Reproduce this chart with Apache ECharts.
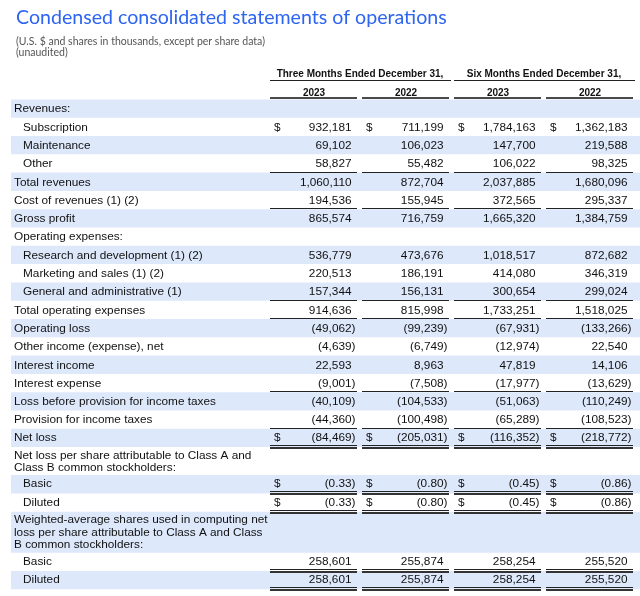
<!DOCTYPE html>
<html>
<head>
<meta charset="utf-8">
<script src="https://cdn.jsdelivr.net/npm/echarts@6/dist/echarts.min.js"></script>
<style>
  html, body { margin: 0; padding: 0; background: #ffffff; }
  #chart { width: 640px; height: 596px; }
</style>
</head>
<body>
<div id="chart"></div>
<script>
// ---------------- DATA ----------------
const titleText = 'Condensed consolidated statements of operations';
const subtitleText = '(U.S. $ and shares in thousands, except per share data)\n(unaudited)';
const periodGroups = ['Three Months Ended December 31,', 'Six Months Ended December 31,'];
const yearLabels = ['2023', '2022', '2023', '2022'];

const rowLabels = [
  'Revenues:',
  'Subscription',
  'Maintenance',
  'Other',
  'Total revenues',
  'Cost of revenues (1) (2)',
  'Gross profit',
  'Operating expenses:',
  'Research and development (1) (2)',
  'Marketing and sales (1) (2)',
  'General and administrative (1)',
  'Total operating expenses',
  'Operating loss',
  'Other income (expense), net',
  'Interest income',
  'Interest expense',
  'Loss before provision for income taxes',
  'Provision for income taxes',
  'Net loss',
  'Net loss per share attributable to Class A and\nClass B common stockholders:',
  'Basic',
  'Diluted',
  'Weighted-average shares used in computing net\nloss per share attributable to Class A and Class\nB common stockholders:',
  'Basic',
  'Diluted'
];

const threeMonths2023 = [null, 932181, 69102, 58827, 1060110, 194536, 865574, null, 536779, 220513, 157344, 914636, -49062, -4639, 22593, -9001, -40109, -44360, -84469, null, -0.33, -0.33, null, 258601, 258601];
const threeMonths2022 = [null, 711199, 106023, 55482, 872704, 155945, 716759, null, 473676, 186191, 156131, 815998, -99239, -6749, 8963, -7508, -104533, -100498, -205031, null, -0.80, -0.80, null, 255874, 255874];
const sixMonths2023   = [null, 1784163, 147700, 106022, 2037885, 372565, 1665320, null, 1018517, 414080, 300654, 1733251, -67931, -12974, 47819, -17977, -51063, -65289, -116352, null, -0.45, -0.45, null, 258254, 258254];
const sixMonths2022   = [null, 1362183, 219588, 98325, 1680096, 295337, 1384759, null, 872682, 346319, 299024, 1518025, -133266, 22540, 14106, -13629, -110249, -108523, -218772, null, -0.86, -0.86, null, 255520, 255520];

// ---------------- LAYOUT / STYLE ----------------
const columns = [threeMonths2023, threeMonths2022, sixMonths2023, sixMonths2022];
const indentedRows = new Set([1, 2, 3, 8, 9, 10, 20, 21, 23, 24]);
const singleRuleRows = new Set([3, 5, 10, 11, 15, 17]);
const doubleRuleRows = new Set([18, 20, 21, 23, 24]);
const dollarRows = new Set([1, 18, 20, 21]);
const perSharePrecision = new Set([20, 21]);

const FONT = '"Liberation Sans", Arial, sans-serif';
const BODY_SIZE = 11.8;
const INK = '#111111';
const SHADE = '#dde8fb';
const ROW_PX = 18.3;

function rowUnits(label) {
  const n = label.split('\n').length;
  return n === 1 ? 1 : (13 * n + 2) / ROW_PX;
}
let acc = 0;
const rowExtents = rowLabels.map((lab, i) => {
  const y0 = acc; acc += rowUnits(lab);
  return [0, y0, acc, i];
});
const totalUnits = acc;

function fmt(v, i) {
  if (v === null || v === undefined) return '';
  const a = Math.abs(v);
  const s = perSharePrecision.has(i)
    ? a.toFixed(2)
    : a.toLocaleString('en-US', { maximumFractionDigits: 0 });
  return v < 0 ? '(' + s + ')' : s;
}

function renderRow(params, api) {
  const i = api.value(3);
  const top = api.coord([0, api.value(1)])[1];
  const bottom = api.coord([0, api.value(2)])[1];
  const band = api.size([1, 0])[0];
  const cs = params.coordSys;
  const children = [];
  if (i % 2 === 0) {
    children.push({
      type: 'rect', z2: 0,
      shape: { x: 11, y: top, width: cs.x + cs.width + 4 - 11, height: bottom - top },
      style: { fill: SHADE }
    });
  }
  const midY = (top + bottom) / 2 + (doubleRuleRows.has(i) ? -0.3 : 0.5);
  children.push({
    type: 'text', z2: 10,
    style: {
      text: rowLabels[i],
      x: indentedRows.has(i) ? 23 : 14,
      y: midY,
      fill: INK,
      fontFamily: FONT,
      fontSize: BODY_SIZE,
      lineHeight: 12.5,
      align: 'left',
      verticalAlign: 'middle'
    }
  });
  for (let c = 0; c < columns.length; c++) {
    const cx = api.coord([c, api.value(1)])[0];
    const left = cx - band / 2 + 2;
    const right = cx + band / 2 - 3;
    const v = columns[c][i];
    if (v !== null && v !== undefined) {
      children.push({
        type: 'text', z2: 10,
        style: {
          text: fmt(v, i),
          x: v < 0 ? right - 1.5 : right - 5.5,
          y: midY,
          fill: INK, fontFamily: FONT, fontSize: BODY_SIZE,
          align: 'right', verticalAlign: 'middle'
        }
      });
      if (dollarRows.has(i)) {
        children.push({
          type: 'text', z2: 10,
          style: {
            text: '$', x: left + 4, y: midY,
            fill: INK, fontFamily: FONT, fontSize: BODY_SIZE,
            align: 'left', verticalAlign: 'middle'
          }
        });
      }
    }
    if (singleRuleRows.has(i)) {
      const yy = Math.round(bottom) - 0.5;
      children.push({ type: 'line', z2: 20, shape: { x1: left, y1: yy, x2: right, y2: yy }, style: { stroke: '#222', lineWidth: 1 } });
    }
    if (doubleRuleRows.has(i)) {
      const y1 = Math.round(bottom) - 1.5;
      const y2 = Math.round(bottom) + 1;
      children.push({ type: 'line', z2: 20, shape: { x1: left, y1: y1, x2: right, y2: y1 }, style: { stroke: '#222', lineWidth: 1 } });
      children.push({ type: 'line', z2: 20, shape: { x1: left, y1: y2, x2: right, y2: y2 }, style: { stroke: '#333', lineWidth: 2 } });
    }
  }
  return { type: 'group', children: children };
}

function renderHeader(params, api) {
  const c = api.value(0);
  const band = api.size([1, 0])[0];
  const cx = api.coord([c, 0])[0];
  const gridTop = params.coordSys.y;
  const left = cx - band / 2 + 2;
  const right = cx + band / 2 - 3;
  const children = [
    { type: 'line', shape: { x1: left, y1: gridTop - 1.5, x2: right, y2: gridTop - 1.5 }, style: { stroke: '#4a4a4a', lineWidth: 2 } }
  ];
  if (c % 2 === 0) {
    const cx2 = api.coord([c + 1, 0])[0];
    const right2 = cx2 + band / 2 - 1;
    const gy = Math.round(gridTop - 19) + 0.5;
    children.push({ type: 'line', shape: { x1: left, y1: gy, x2: right2, y2: gy }, style: { stroke: '#222', lineWidth: 1 } });
    children.push({
      type: 'text',
      style: {
        text: periodGroups[c / 2], x: (cx + cx2) / 2, y: gridTop - 25,
        fill: INK, fontFamily: FONT, fontSize: 10, fontWeight: 'bold',
        align: 'center', verticalAlign: 'middle'
      }
    });
  }
  return { type: 'group', children: children };
}

const chart = echarts.init(document.getElementById('chart'), null, { renderer: 'canvas' });
chart.setOption({
  backgroundColor: '#ffffff',
  animation: false,
  title: {
    text: titleText,
    subtext: subtitleText,
    left: 11,
    top: 3,
    itemGap: 8,
    textStyle: { fontFamily: 'Lato', fontSize: 19.6, fontWeight: 'normal', color: '#2d64f0' },
    subtextStyle: { fontFamily: 'Lato', fontSize: 10.5, color: '#555555', lineHeight: 11 }
  },
  grid: { left: 268, right: 4, top: 99.4, bottom: 596 - 99.4 - totalUnits * ROW_PX },
  xAxis: {
    type: 'category',
    data: yearLabels,
    position: 'top',
    axisLine: { show: false },
    axisTick: { show: false },
    splitLine: { show: false },
    axisLabel: { fontFamily: FONT, fontSize: 10, fontWeight: 'bold', color: INK, margin: 1 }
  },
  yAxis: {
    type: 'value', inverse: true, min: 0, max: totalUnits, show: false
  },
  series: [
    {
      type: 'custom', name: 'rows', silent: true, clip: false,
      renderItem: renderRow,
      encode: { x: 0, y: [1, 2] },
      data: rowExtents,
      z: 2
    },
    {
      type: 'custom', name: 'header', silent: true, clip: false,
      renderItem: renderHeader,
      encode: { x: 0, y: 1 },
      data: yearLabels.map((_, c) => [c, 0]),
      z: 3
    }
  ]
});
</script>
</body>
</html>
